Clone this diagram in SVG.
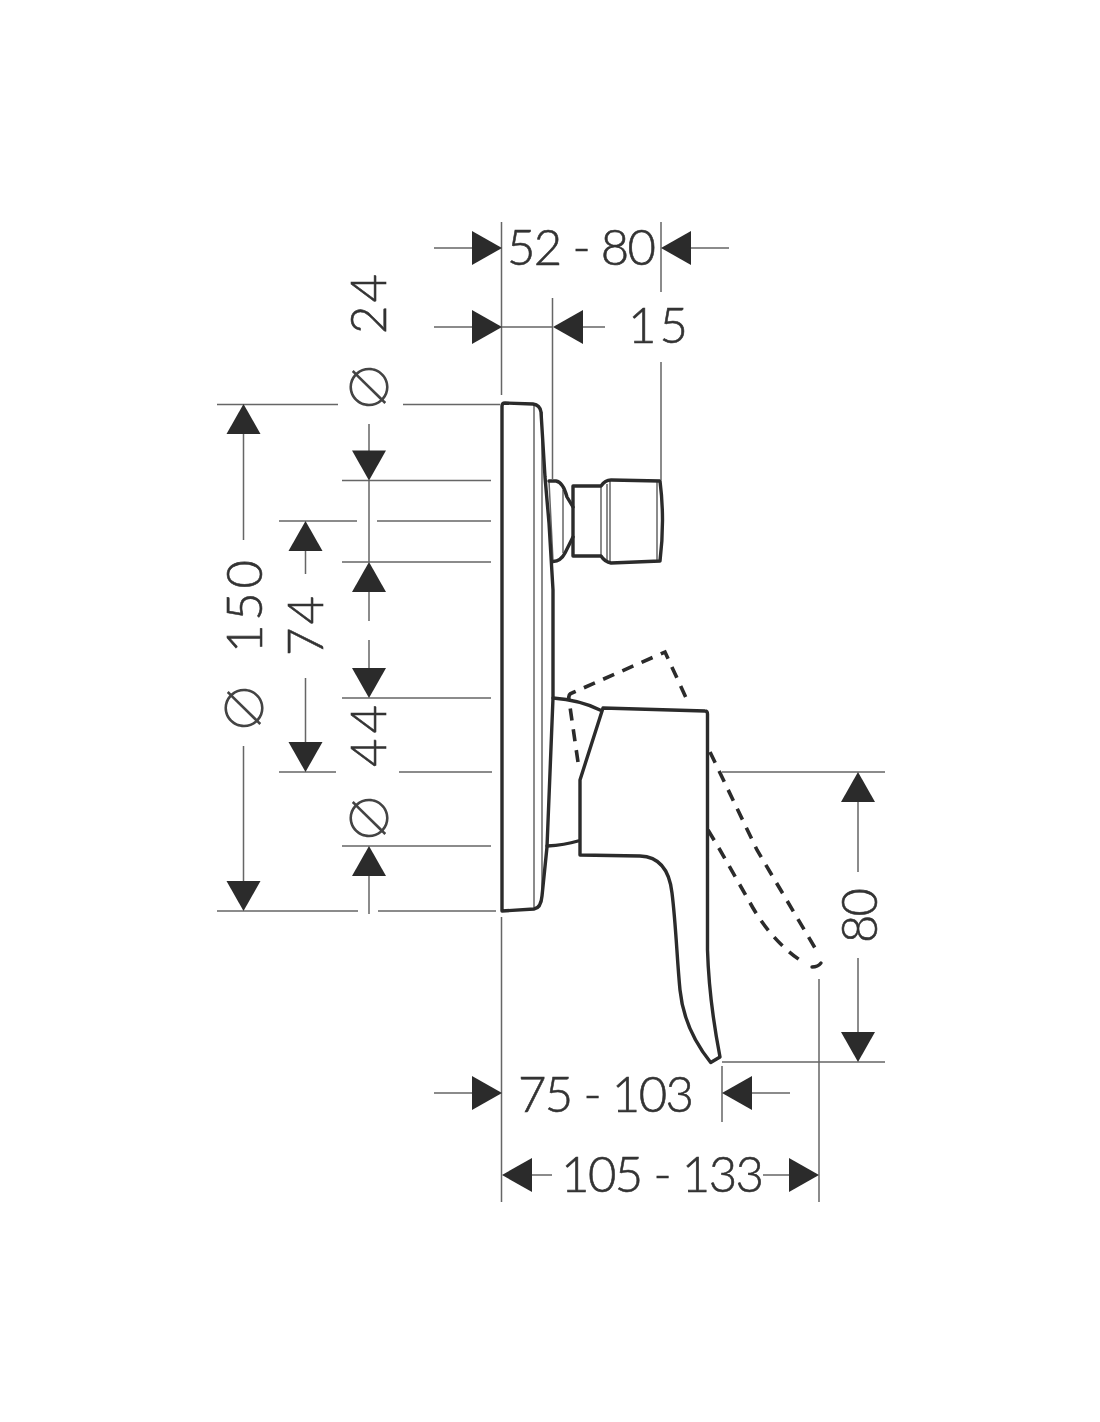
<svg xmlns="http://www.w3.org/2000/svg" width="1100" height="1422" viewBox="0 0 1100 1422">
<style>
.t{font-family:"Lato","Liberation Sans",sans-serif;font-weight:300;font-size:49px;fill:#333;stroke:#333;stroke-width:.6}
.d{font-family:"Noto Sans CJK SC",sans-serif;font-weight:300;font-size:52px;fill:#444}
.b{fill:none;stroke:#2b2b2b;stroke-width:3.4;stroke-linejoin:round;stroke-linecap:round}
.h{fill:none;stroke:#666;stroke-width:1.5}
.dash{fill:none;stroke:#2b2b2b;stroke-width:3.6;stroke-dasharray:12 9}
.a{fill:#2b2b2b}
</style>
<defs>
<path id="ar" d="M0 0L-30 -17L-30 17Z"/>
</defs>
<rect width="1100" height="1422" fill="#fff"/>
<g id="fitting">
<path class="h" d="M534 404V908M542 412V896M549 481L553 561M563 490V553M601 486V556M607 484V560M610 481V562M657 481V561"/>
<path class="b" d="M502 911V406Q502 403 505 403L533 404Q540 405 541 412L545 477L549 523L553 590V698L547 847L542 896Q541 908 534 909L502 911Z"/>
<path class="b" d="M549 481H556Q563 482 567 497L573 507M573 537L565 553Q561 561 553 561.500"/>
<path class="b" d="M573 486H601Q605 480 611 480L660 481Q665 520 660 561L611 563Q605 562 601 556H573Z"/>
<path class="b" d="M553 698Q580 700 600 710M547 846Q565 845 578 841"/>
<path class="b" d="M603 708L705 711Q707.500 711 707.500 714V950Q709 1000 720 1057L710.700 1062.500C695 1043 683 1020 680 990C677 960 676 925 672 893Q668 857 640 856L580 855V780Z"/>
<path class="dash" d="M578 762L569 700Q568 694 572 693L665 652L688 702"/>
<path class="dash" d="M710 752L757 850L818 953"/>
<path class="dash" d="M708 830L720 850L753 908Q775 945 806 964"/>
<path class="b" d="M812 967Q818 967 821 963"/>
</g>
<g id="connectors">
<path class="h" d="M501.500 222V395M552.500 298V480M661 222V292M661 362V480M501.500 917V1202M819 979V1202M722 1066V1122"/>
<path class="h" d="M434 248H472M691 248H729M434 327H472M502 327H552M583 327H605"/>
<path class="h" d="M217 404.500H338M403 404.500H500M243.500 434V540M243.500 746V882M217 911H358M378 911H496"/>
<path class="h" d="M369 424V451M369 480V562M369 592V621M369 640V668M369 876V914M305.500 551V574M305.500 678V743"/>
<path class="h" d="M342 480.500H491M279 521H357M377 521H491M342 562H491M342 698H491M279 772H336M399 772H492M342 846H491"/>
<path class="h" d="M722 772H885M722 1062H885M858 802V872M858 958V1032"/>
<path class="h" d="M434 1093H472M751 1093H790M532 1175H552M763 1175H790"/>
<use href="#ar" class="a" transform="translate(502 248)"/>
<use href="#ar" class="a" transform="translate(661 248) rotate(180)"/>
<use href="#ar" class="a" transform="translate(502 327)"/>
<use href="#ar" class="a" transform="translate(553 327) rotate(180)"/>
<use href="#ar" class="a" transform="translate(243.500 404) rotate(-90)"/>
<use href="#ar" class="a" transform="translate(243.500 911) rotate(90)"/>
<use href="#ar" class="a" transform="translate(369 480.500) rotate(90)"/>
<use href="#ar" class="a" transform="translate(369 562) rotate(-90)"/>
<use href="#ar" class="a" transform="translate(369 698) rotate(90)"/>
<use href="#ar" class="a" transform="translate(369 846) rotate(-90)"/>
<use href="#ar" class="a" transform="translate(305.500 521) rotate(-90)"/>
<use href="#ar" class="a" transform="translate(305.500 772) rotate(90)"/>
<use href="#ar" class="a" transform="translate(858 772) rotate(-90)"/>
<use href="#ar" class="a" transform="translate(858 1062) rotate(90)"/>
<use href="#ar" class="a" transform="translate(502 1093)"/>
<use href="#ar" class="a" transform="translate(722 1093) rotate(180)"/>
<use href="#ar" class="a" transform="translate(502 1175) rotate(180)"/>
<use href="#ar" class="a" transform="translate(819 1175)"/>
</g>
<g id="labels">
<text class="t" x="507" y="265" textLength="149">52 - 80</text>
<text class="t" x="628" y="343" textLength="60">1 5</text>
<text class="t" x="518" y="1112" textLength="176">75 - 103</text>
<text class="t" x="561" y="1192" textLength="203">105 - 133</text>
<text class="t" transform="translate(386 334) rotate(-90)" textLength="60">2 4</text>
<text class="t" transform="translate(262 653) rotate(-90)" textLength="93">1 5 0</text>
<text class="t" transform="translate(323 656) rotate(-90)" textLength="60">7 4</text>
<text class="t" transform="translate(386 767) rotate(-90)" textLength="62">4 4</text>
<text class="t" transform="translate(877 943) rotate(-90)" textLength="55">80</text>
<text class="d" transform="translate(389 413) rotate(-90)">∅</text>
<text class="d" transform="translate(263.500 734) rotate(-90)">∅</text>
<text class="d" transform="translate(389 844) rotate(-90)">∅</text>
</g>
</svg>
